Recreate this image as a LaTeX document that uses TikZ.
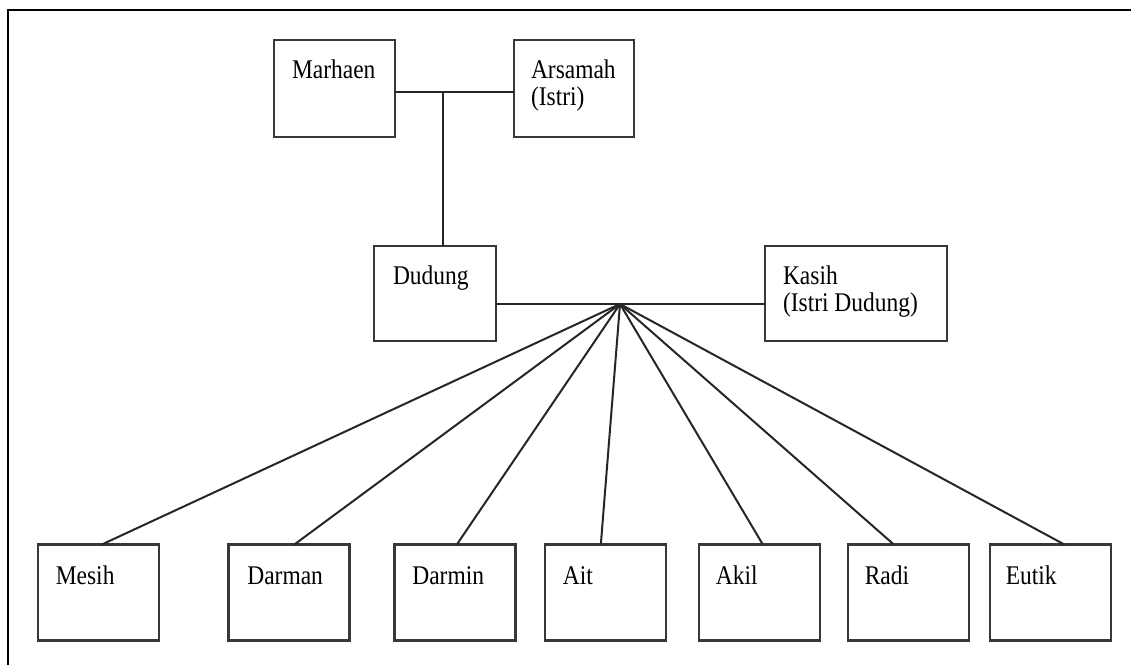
\documentclass[tikz,border=0pt]{standalone}
\usepackage{fontspec}
\setmainfont{Liberation Serif}
\usetikzlibrary{calc}
\newcommand{\tx}[1]{\scalebox{1}[1.15]{#1}}
\tikzset{
  px/.style={x=0.75pt,y=-0.75pt},
  box/.style={draw=black!78,line width=1.8pt,rectangle,inner sep=0pt,outer sep=0pt,fill=white},
  bwide/.style={box,minimum width=91pt,minimum height=72pt},
  lbl/.style={anchor=base west,inner sep=0pt,outer sep=0pt,font=\fontsize{17.6}{18}\selectfont,text=black},
  conn/.style={draw=black!85,line width=1.5pt},
  frame/.style={draw=black,line width=2.2pt}
}
\begin{document}
\begin{tikzpicture}[px]
\useasboundingbox (0,0) rectangle (1131,665);
% frame (top and left edges)
\coordinate (ftr) at (1131,10);
\coordinate (ftl) at (8,10);
\coordinate (fbl) at (8,665);
\draw[frame] (ftr) -- (ftl) -- (fbl);
% boxes
\node[box,minimum width=90.75pt,minimum height=72.75pt] (mar) at (334.5,88.5) {};
\node[box,minimum width=90pt,minimum height=72.75pt] (ars) at (574,88.5) {};
\node[box,minimum width=91.5pt,minimum height=71.25pt] (dud) at (435,293.5) {};
\node[box,minimum width=136.5pt,minimum height=71.25pt] (kas) at (856,293.5) {};
\node[bwide] (mes) at (98.5,592.5) {};
\node[bwide] (dar) at (289,592.5) {};
\node[bwide] (dmn) at (455,592.5) {};
\node[bwide] (ait) at (605.5,592.5) {};
\node[bwide] (akl) at (759.5,592.5) {};
\node[bwide] (rad) at (908.5,592.5) {};
\node[bwide] (eut) at (1050.5,592.5) {};
% labels
\node[lbl] (marT) at ($(mar.north west)+(18,38)$) {\tx{Marhaen}};
\node[lbl] (arsT) at ($(ars.north west)+(17,38)$) {\tx{Arsamah}};
\node[lbl] (arsT2) at ($(ars.north west)+(17,65)$) {\tx{(Istri)}};
\node[lbl] (dudT) at ($(dud.north west)+(19,38)$) {\tx{Dudung}};
\node[lbl] (kasT) at ($(kas.north west)+(18,38)$) {\tx{Kasih}};
\node[lbl] (kasT2) at ($(kas.north west)+(18,65)$) {\tx{(Istri Dudung)}};
\node[lbl] (mesT) at ($(mes.north west)+(18,40)$) {\tx{Mesih}};
\node[lbl] (darT) at ($(dar.north west)+(19,40)$) {\tx{Darman}};
\node[lbl] (dmnT) at ($(dmn.north west)+(18,40)$) {\tx{Darmin}};
\node[lbl] (aitT) at ($(ait.north west)+(18,40)$) {\tx{Ait}};
\node[lbl] (aklT) at ($(akl.north west)+(17,40)$) {\tx{Akil}};
\node[lbl] (radT) at ($(rad.north west)+(17,40)$) {\tx{Radi}};
\node[lbl] (eutT) at ($(eut.north west)+(16,40)$) {\tx{Eutik}};
% connectors
\coordinate (top) at (443,92);
\coordinate (hub) at (620,304);
\draw[conn] (mar.east |- top) -- (ars.west |- top);
\draw[conn] (top) -- (top |- dud.north);
\draw[conn] (dud.east |- hub) -- (kas.west |- hub);
\draw[conn] (hub) -- ($(mes.north west)+(64,0)$);
\draw[conn] (hub) -- ($(dar.north west)+(66,0)$);
\draw[conn] (hub) -- ($(dmn.north west)+(62.5,0)$);
\draw[conn] (hub) -- ($(ait.north west)+(56,0)$);
\draw[conn] (hub) -- ($(akl.north west)+(64,0)$);
\draw[conn] (hub) -- ($(rad.north west)+(46,0)$);
\draw[conn] (hub) -- ($(eut.north west)+(74.5,0)$);
\end{tikzpicture}
\end{document}
